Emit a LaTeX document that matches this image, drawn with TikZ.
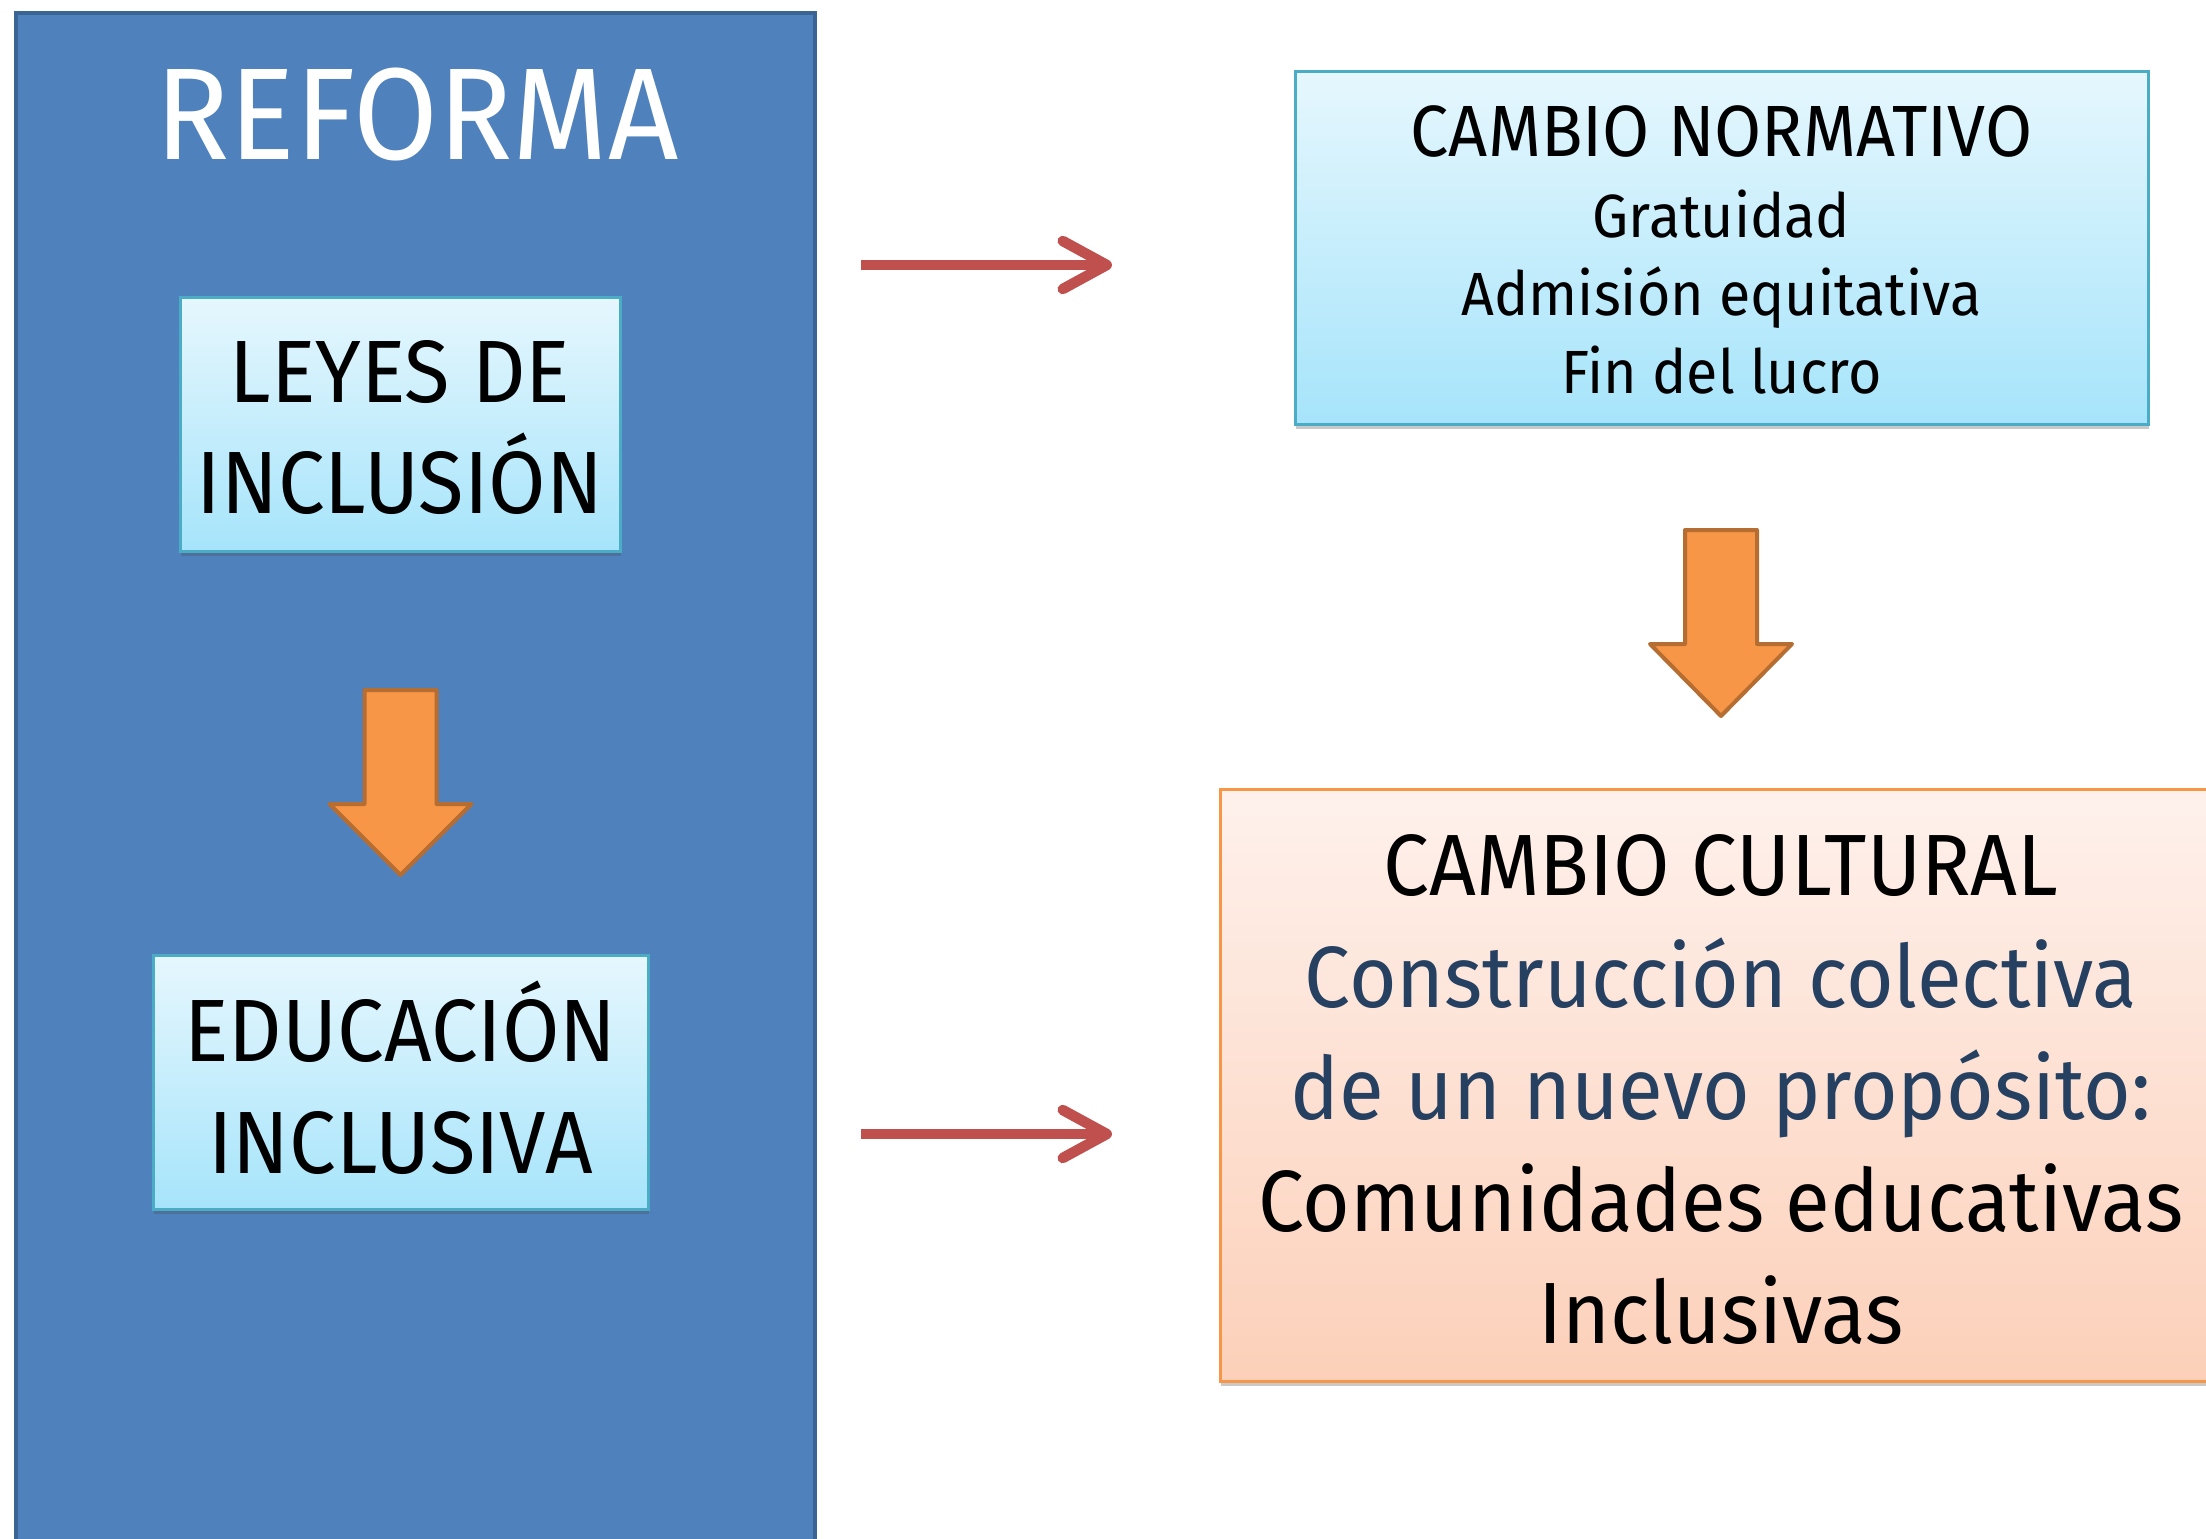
\documentclass[tikz,border=0pt]{standalone}
\usepackage{fontspec}
\setmainfont{Fira Sans}[FakeStretch=0.94]
\usepackage{tikz}
\usetikzlibrary{arrows.meta}
\usetikzlibrary{shadows}
\definecolor{panelblue}{HTML}{4F81BD}
\definecolor{panelline}{HTML}{3A6494}
\definecolor{boxtop}{HTML}{E6F7FD}
\definecolor{boxbottom}{HTML}{A6E4FB}
\definecolor{boxline}{HTML}{4BACC6}
\definecolor{peachtop}{HTML}{FEF1EC}
\definecolor{peachbottom}{HTML}{FCD0B9}
\definecolor{peachline}{HTML}{F79646}
\definecolor{arrowfill}{HTML}{F79646}
\definecolor{arrowline}{HTML}{B66D31}
\definecolor{linkred}{HTML}{C0504D}
\definecolor{darktext}{HTML}{254061}
\tikzstyle{base}=[x=1pt, y=-1pt, inner sep=0pt, outer sep=0pt]
\tikzstyle{softshadow}=[drop shadow={shadow xshift=1pt, shadow yshift=-5pt, opacity=.3, fill=black!70}]
\tikzstyle{lightbox}=[draw=boxline, line width=3pt, top color=boxtop, bottom color=boxbottom, align=center, softshadow]
\tikzstyle{peachbox}=[draw=peachline, line width=3pt, top color=peachtop, bottom color=peachbottom, align=center, softshadow]
\tikzstyle{blockarrow}=[fill=arrowfill, draw=arrowline, line width=4pt, line join=round]
\tikzstyle{redlink}=[draw=linkred, line width=10.5pt, -{Straight Barb[length=44pt, width=48pt, round]}]

\begin{document}
\begin{tikzpicture}[base]
        \useasboundingbox (0,0) rectangle (2206,1539);
        % left column
        \node[fill=panelblue, draw=panelline, line width=4pt, minimum width=799, minimum height=1574] (panel) at (415.5,800) {};
        \node[anchor=base, text=white, font=\fontsize{130.6}{150}\selectfont] (reforma) at (417,159) {REFORMA};
        \node[lightbox, minimum width=440, minimum height=254, text height=198pt, text depth=20pt,
              font=\fontsize{88.5}{111}\selectfont] (leyes) at (400,424) {LEYES DE\\INCLUSIÓN};
        \node[lightbox, minimum width=495, minimum height=254, text height=202pt, text depth=20pt,
              font=\fontsize{88.5}{112}\selectfont] (educacion) at (400.5,1082) {EDUCACIÓN\\INCLUSIVA};
        \draw[blockarrow, shift={(400.5,690)}] (-36,0) -- (36,0) -- (36,114) -- (71,114) -- (0,185) -- (-71,114) -- (-36,114) -- cycle;
        % right column
        \node[lightbox, minimum width=853, minimum height=353, text height=311pt, text depth=20pt,
              font=\fontsize{61}{78}\selectfont] (normativo) at (1721.5,247.5)
              {{\fontsize{72.6}{78}\selectfont CAMBIO NORMATIVO}\\[3pt]Gratuidad\\Admisión equitativa\\Fin del lucro};
        \draw[blockarrow, shift={(1721,530)}] (-36,0) -- (36,0) -- (36,114) -- (71,114) -- (0,186) -- (-71,114) -- (-36,114) -- cycle;
        \node[peachbox, minimum width=1002, minimum height=592, text height=536pt, text depth=20pt,
              font=\fontsize{87}{112}\selectfont] (cultural) at (1721,1085)
              {CAMBIO CULTURAL\\\textcolor{darktext}{Construcción colectiva}\\\textcolor{darktext}{de un nuevo propósito:}\\Comunidades educativas\\Inclusivas};
        % links
        \coordinate (topfrom) at (861,265);
        \coordinate (topto) at (1112,265);
        \coordinate (lowfrom) at (861,1134);
        \coordinate (lowto) at (1112,1134);
        \draw[redlink] (topfrom) -- (topto);
        \draw[redlink] (lowfrom) -- (lowto);
    \end{tikzpicture}
\end{document}
